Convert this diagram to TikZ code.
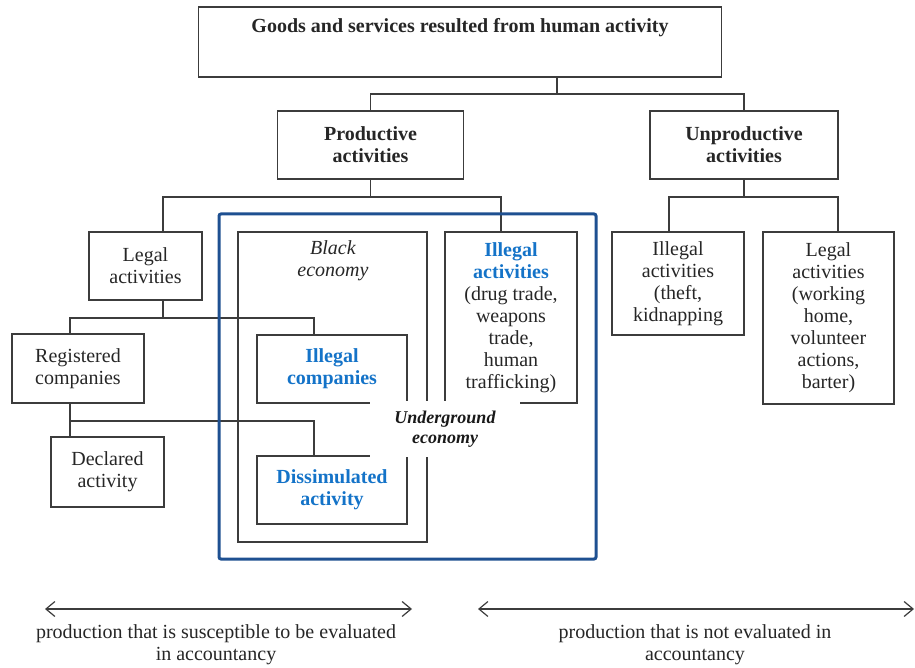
\documentclass[tikz,border=0pt]{standalone}
\usepackage{fontspec}
\setmainfont{Liberation Serif}
\usetikzlibrary{arrows.meta}
\definecolor{frameblue}{RGB}{30,80,145}
\definecolor{txtblue}{RGB}{20,115,200}
\definecolor{linegray}{RGB}{60,60,60}
\newcommand{\bl}[1]{\textcolor{txtblue}{\textbf{#1}}}
\tikzset{
  box/.style={draw=linegray, line width=1.3pt, align=center, inner sep=2pt, text=black!85,
    font=\fontsize{20}{22}\selectfont},
  link/.style={draw=linegray, line width=1.3pt},
  span/.style={linegray, line width=1.2pt,
    {Straight Barb[length=9pt,width=15pt]}-{Straight Barb[length=9pt,width=15pt]}},
  plain/.style={align=center, text=black!85, font=\fontsize{20}{22}\selectfont},
}

\begin{document}
\begin{tikzpicture}[x=1pt,y=-1pt]
    \useasboundingbox (0,0) rectangle (915,668);
    % level 1
    \node[box, minimum width=523pt, minimum height=70pt, inner ysep=6pt, text height=20pt, text depth=38pt] (goods) at (460,42) {\textbf{Goods and services resulted from human activity}};
    % level 2
    \node[box, minimum width=186pt, minimum height=68pt] (prod) at (370.5,145) {\textbf{Productive}\\\textbf{activities}};
    \node[box, minimum width=188pt, minimum height=68pt] (unprod) at (744,145) {\textbf{Unproductive}\\\textbf{activities}};
    % level 3
    \node[box, minimum width=113pt, minimum height=68pt] (leg) at (145.5,266) {Legal\\activities};
    \node[box, minimum width=189pt, minimum height=310pt] (black) at (332.5,387) {};
    \node[plain] (blacktxt) at (333,261) {\textit{Black}\\\textit{economy}};
    \node[box, minimum width=132pt, minimum height=171pt] (illact) at (511,317.5) {\bl{Illegal}\\\bl{activities}\\(drug trade,\\weapons\\trade,\\human\\trafficking)};
    \node[box, minimum width=132pt, minimum height=103pt] (illun) at (678,283.5) {Illegal\\activities\\(theft,\\kidnapping};
    \node[box, minimum width=131pt, minimum height=172pt] (legun) at (828.5,318) {Legal\\activities\\(working\\home,\\volunteer\\actions,\\barter)};
    % level 4
    \node[box, minimum width=132pt, minimum height=69pt] (reg) at (78,368.5) {Registered\\companies};
    \node[box, minimum width=150pt, minimum height=68pt] (illcomp) at (332,369) {\bl{Illegal}\\\bl{companies}};
    \node[box, minimum width=113pt, minimum height=70pt] (decl) at (107.5,472) {Declared\\activity};
    \node[box, minimum width=150pt, minimum height=68pt] (dissim) at (332,490) {\bl{Dissimulated}\\\bl{activity}};
    % links
    \coordinate (jtop) at (557,94);
    \draw[link] (jtop |- goods.south) -- (jtop);
    \draw[link] (prod.north) |- (jtop) -| (unprod.north);
    \coordinate (jprod) at (370.5,197);
    \draw[link] (prod.south) -- (jprod);
    \draw[link] ([xshift=17.5pt]leg.north) |- (jprod) -| ([xshift=-10pt]illact.north);
    \coordinate (junp) at (744,197);
    \draw[link] (unprod.south) -- (junp);
    \draw[link] ([xshift=-9pt]illun.north) |- (junp) -| ([xshift=9.5pt]legun.north);
    \coordinate (jleg) at (163,318);
    \draw[link] ([xshift=17.5pt]leg.south) -- (jleg);
    \draw[link] ([xshift=-8pt]reg.north) |- (jleg) -| ([xshift=-18pt]illcomp.north);
    \coordinate (jreg) at (70,421);
    \draw[link] ([xshift=-8pt]reg.south) -- ([xshift=-37.5pt]decl.north);
    \draw[link] (jreg) -| ([xshift=-18pt]dissim.north);
    % underground economy
    \node[draw=frameblue, line width=3pt, rounded corners=2pt, minimum width=377pt, minimum height=345pt] (under) at (407.5,386.5) {};
    \node[fill=white, minimum width=150pt, minimum height=56pt, align=center, text=black!90,
      font=\fontsize{18}{20}\selectfont\bfseries\itshape] (undtxt) at (445,429) {Underground\\economy};
    % accountancy
    \coordinate (la) at (45,609);
    \coordinate (lb) at (412,609);
    \draw[span] (la) -- (lb);
    \coordinate (ra) at (478,609);
    \coordinate (rb) at (914,609);
    \draw[span] (ra) -- (rb);
    \node[plain] (evtxt) at (216,645) {production that is susceptible to be evaluated\\in accountancy};
    \node[plain] (notxt) at (695,645) {production that is not evaluated in\\accountancy};
\end{tikzpicture}
\end{document}
